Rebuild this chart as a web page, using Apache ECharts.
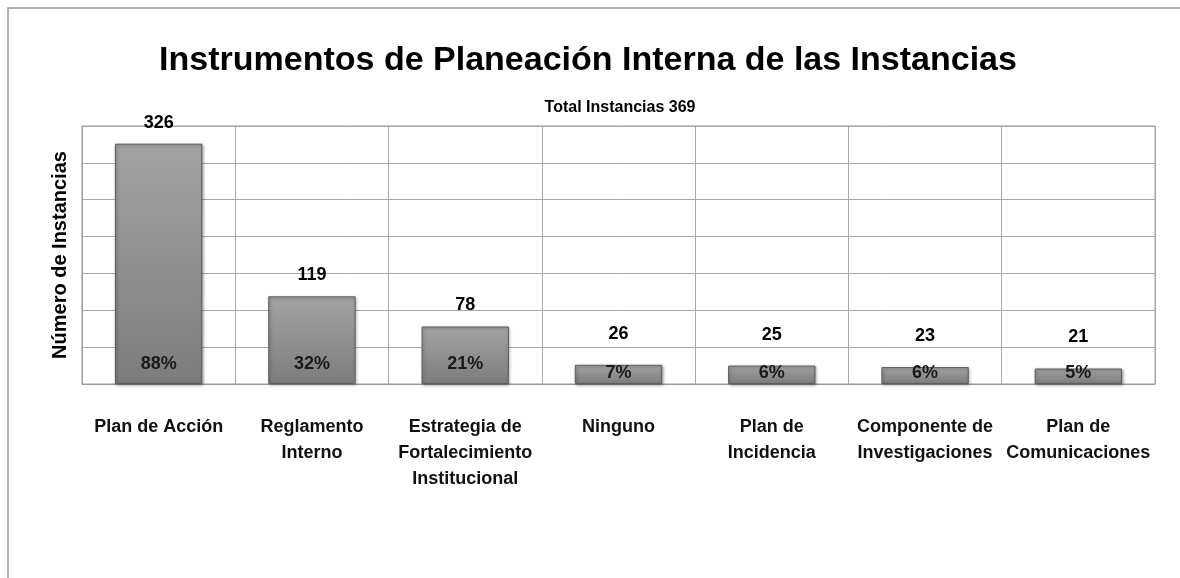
<!DOCTYPE html>
<html>
<head>
<meta charset="utf-8">
<script src="https://cdn.jsdelivr.net/npm/echarts@6/dist/echarts.min.js"></script>
<style>
  html, body { margin: 0; padding: 0; background: #fff; }
  #chart { width: 1180px; height: 578px; }
</style>
</head>
<body>
<div id="chart"></div>
<script>
const categories = [
  "Plan de Acción",
  "Reglamento\nInterno",
  "Estrategia de\nFortalecimiento\nInstitucional",
  "Ninguno",
  "Plan de\nIncidencia",
  "Componente de\nInvestigaciones",
  "Plan de\nComunicaciones"
];
const instancias = [326, 119, 78, 26, 25, 23, 21];
const porcentajes = ["88%", "32%", "21%", "7%", "6%", "6%", "5%"];

const fontFamily = "'Liberation Sans', Arial, sans-serif";

const chartDom = document.getElementById("chart");
const myChart = echarts.init(chartDom);

const barStyle = {
  color: new echarts.graphic.LinearGradient(0, 0, 0, 1, [
    { offset: 0, color: "#a3a3a3" },
    { offset: 1, color: "#7c7c7c" }
  ]),
  borderColor: "#5e5e5e",
  borderWidth: 1,
  shadowColor: "rgba(0,0,0,0.35)",
  shadowBlur: 3,
  shadowOffsetX: 1,
  shadowOffsetY: 1
};

const option = {
  animation: false,
  title: [
    {
      text: "Instrumentos de Planeación Interna de las Instancias",
      left: 583,
      top: 39,
      textAlign: "center",
      textStyle: { fontFamily, fontSize: 34, fontWeight: "bold", color: "#000" }
    },
    {
      text: "Total Instancias 369",
      left: 615,
      top: 95,
      textAlign: "center",
      textStyle: { fontFamily, fontSize: 16, fontWeight: "bold", color: "#000" }
    }
  ],
  graphic: [
    {
      type: "polyline",
      shape: { points: [[8, 578], [8, 8], [1180, 8]] },
      style: { stroke: "#999", lineWidth: 1.5, fill: null }
    }
  ],
  grid: {
    left: 82,
    right: 25,
    top: 126,
    bottom: 194,
    show: true,
    borderColor: "#9a9a9a",
    borderWidth: 1
  },
  xAxis: {
    type: "category",
    data: categories,
    axisTick: { show: false },
    axisLine: { lineStyle: { color: "#9a9a9a" } },
    splitLine: { show: true, lineStyle: { color: "#a8a8a8" } },
    axisLabel: {
      interval: 0,
      margin: 30,
      fontFamily,
      fontSize: 18,
      fontWeight: "bold",
      lineHeight: 26,
      color: "#111"
    }
  },
  yAxis: {
    type: "value",
    min: 0,
    max: 350,
    interval: 50,
    name: "Número de Instancias",
    nameLocation: "middle",
    nameGap: 12,
    nameTextStyle: { fontFamily, fontSize: 20, fontWeight: "bold", color: "#000" },
    axisLabel: { show: false },
    axisTick: { show: false },
    axisLine: { show: true, lineStyle: { color: "#9a9a9a" } },
    splitLine: { lineStyle: { color: "#a8a8a8" } }
  },
  series: [
    {
      name: "Instancias",
      type: "bar",
      barWidth: "57%",
      itemStyle: barStyle,
      data: instancias.map(v => ({
        value: v,
        label: { distance: v < 50 ? 22 : 12 }
      })),
      label: {
        show: true,
        position: "top",
        fontFamily,
        fontSize: 18,
        fontWeight: "bold",
        color: "#000"
      },
      z: 2
    },
    {
      name: "Porcentaje",
      type: "bar",
      barWidth: "57%",
      barGap: "-100%",
      itemStyle: { color: "transparent" },
      silent: true,
      data: instancias.map((v, i) => ({
        value: v,
        label: { distance: v < 50 ? 2 : 11, formatter: porcentajes[i] }
      })),
      label: {
        show: true,
        position: "insideBottom",
        fontFamily,
        fontSize: 18,
        fontWeight: "bold",
        color: "#1a1a1a"
      },
      z: 3
    }
  ]
};

window.addEventListener("resize", function () {
  myChart.resize();
});

option && myChart.setOption(option);
</script>
</body>
</html>
